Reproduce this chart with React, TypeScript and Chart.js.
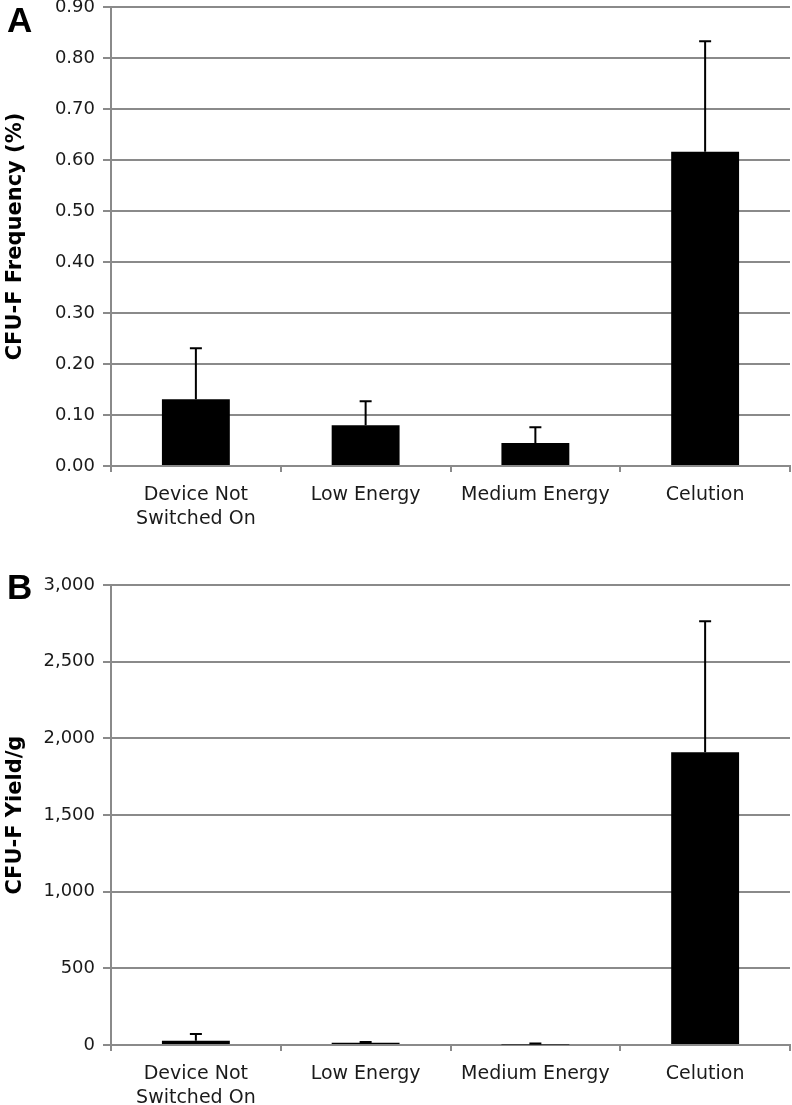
import React, { useEffect, useRef } from "react";
import { Chart, registerables } from "chart.js";

Chart.register(...registerables);

// ---- Data ----
const categories: (string | string[])[] = [["Device Not", "Switched On"], "Low Energy", "Medium Energy", "Celution"];

const freqValues = [0.131, 0.08, 0.045, 0.616];
const freqErrors = [0.1, 0.047, 0.031, 0.217];
const freqAxis = { min: 0, max: 0.9, step: 0.1 };
const freqTitle = "CFU-F Frequency (%)";

const yieldValues = [28, 15, 4, 1910];
const yieldErrors = [44, 5, 5, 854];
const yieldAxis = { min: 0, max: 3000, step: 500 };
const yieldTitle = "CFU-F Yield/g";

const panelLetters = ["A", "B"];

const GRID = "#8a8a8a";
const TEXT = "#1a1a1a";
const FONT = "'DejaVu Sans', sans-serif";

function makeErrorPlugin(errors: number[]) {
  return {
    id: "errorBars",
    afterDatasetsDraw(chart: any) {
      const meta = chart.getDatasetMeta(0);
      const y = chart.scales.y;
      const data = chart.data.datasets[0].data as number[];
      const ctx = chart.ctx;
      ctx.save();
      ctx.strokeStyle = "#000";
      ctx.lineWidth = 2;
      meta.data.forEach((bar: any, i: number) => {
        const v = data[i];
        const base = y.getPixelForValue(v);
        const top = y.getPixelForValue(v + errors[i]);
        ctx.beginPath();
        ctx.moveTo(bar.x, base);
        ctx.lineTo(bar.x, top);
        ctx.moveTo(bar.x - 6, top);
        ctx.lineTo(bar.x + 6, top);
        ctx.stroke();
      });
      ctx.restore();
    },
  };
}

type PanelProps = {
  values: number[];
  errors: number[];
  axis: { min: number; max: number; step: number };
  title: string;
  fmt: (v: number) => string;
  height: number;
  padTop: number;
  xAxisHeight: number;
};

function Panel({ values, errors, axis, title, fmt, height, padTop, xAxisHeight }: PanelProps) {
  const ref = useRef<HTMLCanvasElement | null>(null);
  useEffect(() => {
    if (!ref.current) return;
    const chart = new Chart(ref.current, {
      type: "bar",
      data: {
        labels: categories as any,
        datasets: [
          {
            data: values,
            backgroundColor: "#000",
            borderColor: "#000",
            borderWidth: 0,
            barPercentage: 0.4,
            categoryPercentage: 1,
          },
        ],
      },
      options: {
        animation: false,
        responsive: false,
        devicePixelRatio: 1,
        layout: { padding: { top: padTop, bottom: 0, left: 0, right: 2 } },
        plugins: { legend: { display: false }, tooltip: { enabled: false }, title: { display: false } },
        scales: {
          x: {
            offset: true,
            grid: { display: true, drawOnChartArea: false, drawTicks: true, tickLength: 6, offset: true, color: GRID, lineWidth: 2 },
            border: { display: true, color: GRID, width: 2 },
            ticks: { color: TEXT, font: { family: FONT, size: 19, lineHeight: 1.25 }, padding: 11, maxRotation: 0, autoSkip: false },
            afterFit: (s: any) => {
              s.height = xAxisHeight;
            },
          },
          y: {
            min: axis.min,
            max: axis.max,
            grid: { color: GRID, lineWidth: 2, drawTicks: true, tickLength: 8 },
            border: { display: true, color: GRID, width: 2 },
            ticks: {
              stepSize: axis.step,
              color: TEXT,
              font: { family: FONT, size: 18 },
              padding: 8,
              callback: (v: any) => fmt(Number(v)),
            },
            title: {
              display: true,
              text: title,
              color: "#000",
              font: { family: FONT, size: 21, weight: "bold" },
              padding: { top: 3, bottom: 0 },
            },
            afterFit: (s: any) => {
              s.width = 111;
              s.paddingTop = 0;
              s.paddingBottom = 0;
            },
          },
        },
      },
      plugins: [makeErrorPlugin(errors)],
    } as any);
    return () => chart.destroy();
  }, []);
  return <canvas ref={ref} width={792} height={height} style={{ display: "block", width: 792, height }} />;
}

const letterStyle: React.CSSProperties = {
  position: "absolute",
  left: 7,
  fontFamily: "'Liberation Sans', Arial, sans-serif",
  fontWeight: "bold",
  fontSize: 35,
  lineHeight: "35px",
  color: "#000",
};

export default function App() {
  return (
    <div style={{ position: "absolute", left: 0, top: 0, width: 792, height: 1105, background: "#fff", overflow: "hidden" }}>
      <div style={{ position: "absolute", left: 0, top: 0 }}>
        <Panel
          values={freqValues}
          errors={freqErrors}
          axis={freqAxis}
          title={freqTitle}
          fmt={(v) => v.toFixed(2)}
          height={540}
          padTop={7}
          xAxisHeight={74}
        />
      </div>
      <div style={{ position: "absolute", left: 0, top: 560 }}>
        <Panel
          values={yieldValues}
          errors={yieldErrors}
          axis={yieldAxis}
          title={yieldTitle}
          fmt={(v) => v.toLocaleString("en-US")}
          height={545}
          padTop={25}
          xAxisHeight={60}
        />
      </div>
      <div style={{ ...letterStyle, top: 2 }}>{panelLetters[0]}</div>
      <div style={{ ...letterStyle, top: 569 }}>{panelLetters[1]}</div>
    </div>
  );
}
